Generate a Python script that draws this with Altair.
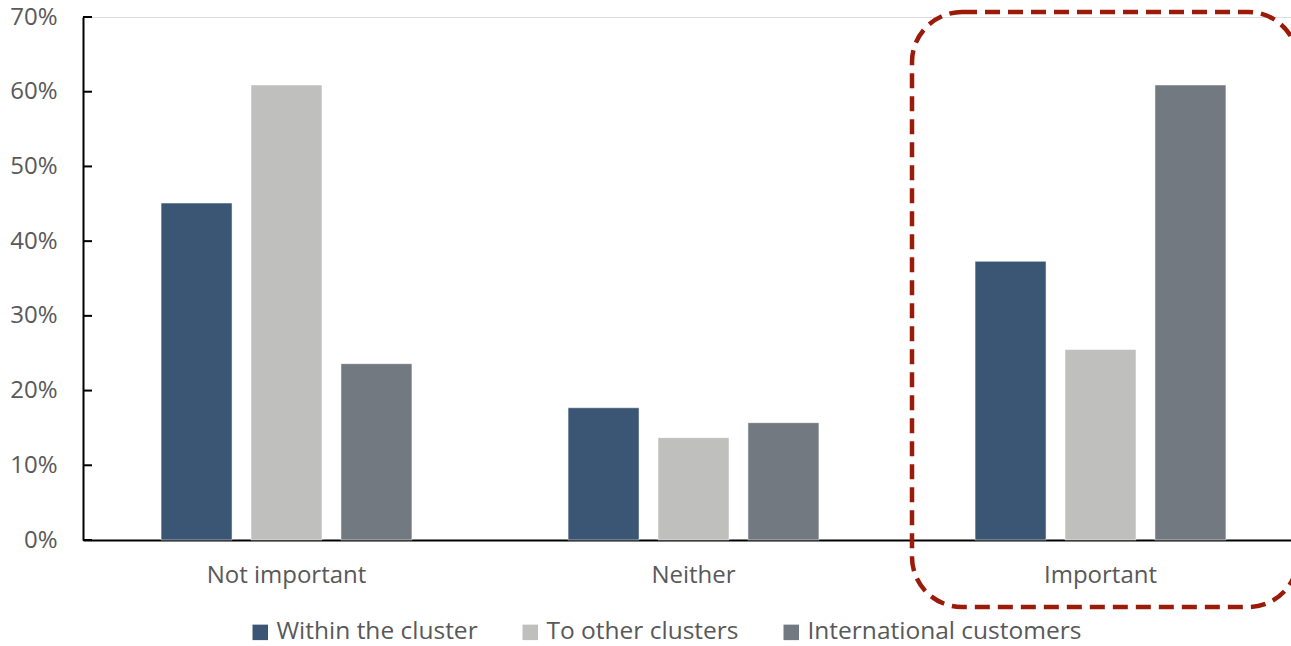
import altair as alt
import pandas as pd

# Survey answers: importance rating by sales destination
categories = ["Not important", "Neither", "Important"]
series = ["Within the cluster", "To other clusters", "International customers"]
within_cluster = [0.451, 0.177, 0.373]
other_clusters = [0.609, 0.137, 0.255]
international = [0.236, 0.157, 0.609]
y_ticks = [0.0, 0.1, 0.2, 0.3, 0.4, 0.5, 0.6, 0.7]

colors = ["#3B5674", "#BFBFBE", "#737981"]
text_color = "#595959"
font = "Open Sans"

rows = []
for s, vals in zip(series, [within_cluster, other_clusters, international]):
    for c, v in zip(categories, vals):
        rows.append({"category": c, "series": s, "value": v})
df = pd.DataFrame(rows)
ticks_df = pd.DataFrame({"value": y_ticks})

# The category bands run slightly past the right edge of the page
W, H = 1208, 523
BAND_SPAN = 1221

y_scale = alt.Scale(domain=[0, 0.7], nice=False)
y_axis = alt.Axis(
    values=y_ticks,
    format=".0%",
    labelFontSize=24,
    labelFont=font,
    labelColor=text_color,
    labelPadding=26,
    ticks=False,
    grid=False,
    domainColor="black",
    domainWidth=2,
)

bars = alt.Chart(df).mark_bar(stroke="white", strokeWidth=0.5).encode(
    x=alt.X(
        "category:N",
        sort=categories,
        title=None,
        scale=alt.Scale(paddingInner=0.337, paddingOuter=0.1685, range=[0, BAND_SPAN]),
        axis=alt.Axis(
            labelAngle=0,
            labelFontSize=24,
            labelFont=font,
            labelColor=text_color,
            labelPadding=23,
            ticks=False,
            grid=False,
            domainColor="black",
            domainWidth=2,
        ),
    ),
    xOffset=alt.XOffset(
        "series:N",
        sort=series,
        scale=alt.Scale(paddingInner=0.211, paddingOuter=0.1055),
    ),
    y=alt.Y("value:Q", title=None, scale=y_scale, axis=y_axis),
    color=alt.Color(
        "series:N",
        sort=series,
        scale=alt.Scale(domain=series, range=colors),
        legend=alt.Legend(
            title=None,
            orient="none",
            direction="horizontal",
            legendX=165,
            legendY=603,
            symbolType="square",
            symbolSize=240,
            symbolStrokeWidth=0,
            labelFontSize=24.5,
            labelFont=font,
            labelColor=text_color,
            labelOffset=4,
            labelLimit=400,
            columnPadding=40,
        ),
    ),
)

# Inward tick marks on the value axis
inner_ticks = alt.Chart(ticks_df).mark_rule(color="black", strokeWidth=2).encode(
    y=alt.Y("value:Q", title=None, scale=y_scale, axis=y_axis),
    x=alt.value(0),
    x2=alt.value(9),
)

# Dashed highlight around the "Important" group
highlight = alt.Chart(pd.DataFrame({"k": [0]})).mark_rect(
    fill="transparent",
    stroke="#9B1B0B",
    strokeWidth=4.5,
    strokeDash=[15, 8],
    cornerRadius=50,
    clip=False,
).encode(
    x=alt.value(829),
    x2=alt.value(1215),
    y=alt.value(-5),
    y2=alt.value(590),
)

chart = alt.layer(bars, inner_ticks, highlight).properties(
    width=W,
    height=H,
    autosize=alt.AutoSizeParams(type="none"),
    padding={"left": 83, "top": 17, "right": 0, "bottom": 106},
).configure_view(strokeWidth=0, stroke="transparent").configure(background="white")

chart.save("out.html", embed_options={"renderer": "svg", "actions": False})
